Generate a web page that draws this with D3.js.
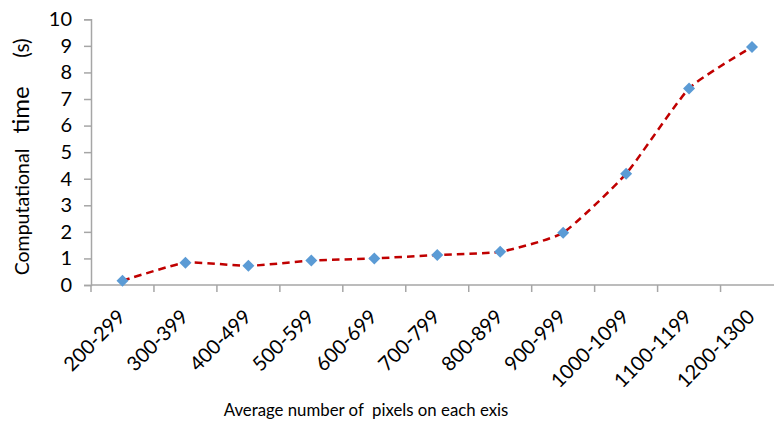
<!DOCTYPE html>
<html>
<head>
<meta charset="utf-8">
<script src="https://cdn.jsdelivr.net/npm/d3@7"></script>
<style>
  html, body { margin: 0; padding: 0; background: #fff; }
  svg { display: block; }
  text { font-family: Lato, "Open Sans", sans-serif; fill: #000; white-space: pre; }
</style>
</head>
<body>
<svg id="chart" width="774" height="423"></svg>
<script>
const categories = ["200-299","300-399","400-499","500-599","600-699","700-799","800-899","900-999","1000-1099","1100-1199","1200-1300"];
const times = [0.16, 0.84, 0.72, 0.92, 1.0, 1.13, 1.25, 1.97, 4.19, 7.40, 8.96];
const yTicks = [0,1,2,3,4,5,6,7,8,9,10];
const xTitle = "Average number of  pixels on each exis";
const yTitleParts = ["Computational", "time", "(s)"];

const svg = d3.select("#chart");
const plotLeft = 91, plotRight = 783.5, plotTop = 19.3, plotBottom = 285;
const axisColor = "#a6a6a6";

const x = d3.scaleBand().domain(categories).range([plotLeft, plotRight]).padding(0);
const y = d3.scaleLinear().domain([0, 10]).range([plotBottom, plotTop]);

// Y axis
const yAxis = d3.axisLeft(y).tickValues(yTicks).tickSize(7).tickPadding(12).tickFormat(d3.format("d"));
const gy = svg.append("g").attr("transform", `translate(${plotLeft},0)`).call(yAxis);
gy.select(".domain").attr("stroke", axisColor).attr("stroke-width", 1.5);
gy.selectAll(".tick line").attr("stroke", axisColor).attr("stroke-width", 1.5);
gy.selectAll(".tick text").style("font-size", "20px").style("font-family", "Lato, sans-serif").attr("fill", "#000");

// X axis line
svg.append("line").attr("x1", plotLeft).attr("x2", 774).attr("y1", plotBottom).attr("y2", plotBottom)
  .attr("stroke", axisColor).attr("stroke-width", 1.5);
// X tick marks at band boundaries
const bounds = categories.map(c => x(c)).concat([x(categories[categories.length-1]) + x.bandwidth()]);
svg.append("g").selectAll("line").data(bounds).join("line")
  .attr("x1", d => d).attr("x2", d => d).attr("y1", plotBottom).attr("y2", plotBottom + 7)
  .attr("stroke", axisColor).attr("stroke-width", 1.5);

// X tick labels
svg.append("g").selectAll("text").data(categories).join("text")
  .attr("transform", d => `translate(${x(d) + x.bandwidth()/2 + 4},${318}) rotate(-45)`)
  .attr("text-anchor", "end")
  .style("font-size", "20px")
  .text(d => d);

// Line
const line = d3.line()
  .x((d, i) => x(categories[i]) + x.bandwidth()/2)
  .y(d => y(d))
  .curve(d3.curveCardinal.tension(0.5));
svg.append("path").datum(times).attr("d", line)
  .attr("fill", "none").attr("stroke", "#c00000").attr("stroke-width", 2.5)
  .attr("stroke-dasharray", "7.5,5");

// Markers
const sym = d3.symbol().type(d3.symbolSquare).size(72);
svg.append("g").selectAll("path").data(times).join("path")
  .attr("d", sym)
  .attr("transform", (d, i) => `translate(${x(categories[i]) + x.bandwidth()/2},${y(d)}) rotate(45)`)
  .attr("fill", "#5b9bd5");

// X title
svg.append("text").attr("x", 366).attr("y", 416).attr("text-anchor", "middle")
  .style("font-size", "16.8px").text(xTitle);

// Y title (three parts, placed along the rotated baseline)
const yParts = [
  { text: yTitleParts[0], center: 212, size: 19.5 },
  { text: yTitleParts[1], center: 110, size: 24 },
  { text: yTitleParts[2], center: 48, size: 21 }
];
yParts.forEach(p => {
  svg.append("text").attr("transform", `translate(29,${p.center}) rotate(-90)`)
    .attr("text-anchor", "middle").style("font-size", p.size + "px").text(p.text);
});
</script>
</body>
</html>
